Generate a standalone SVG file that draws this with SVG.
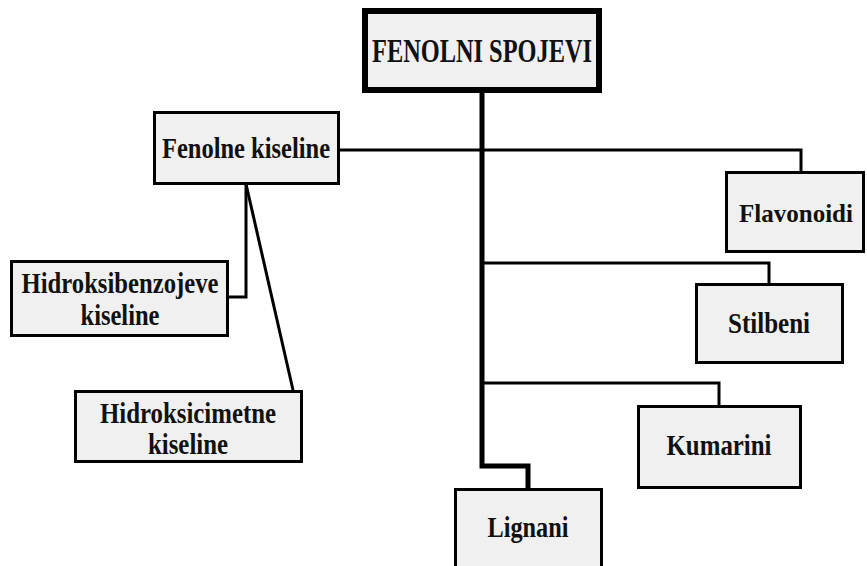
<svg xmlns="http://www.w3.org/2000/svg" width="867" height="566" viewBox="0 0 867 566">
<style>
.box{fill:#f0f0f0;stroke:#000;stroke-width:3}
.main{fill:#f0f0f0;stroke:#000;stroke-width:6}
.t{font-family:"Liberation Serif","Times New Roman",serif;font-weight:bold;font-size:30px;fill:#111;text-anchor:middle}
.title{font-size:34px}
.small{font-size:25px}
.c{fill:none;stroke:#000;stroke-width:3}
.trunk{fill:none;stroke:#000;stroke-width:5}
</style>
<rect width="867" height="566" fill="#fff"/>
<g id="connectors">
<polyline class="c" points="339,150 801,150 801,172"/>
<polyline class="c" points="482,263 769,263 769,283"/>
<polyline class="c" points="482,383 719,383 719,406"/>
<polyline class="c" points="246,184 246,297 229,297"/>
<line class="c" x1="246" y1="184" x2="293" y2="390"/>
<polyline class="trunk" points="482,93 482,466 528,466 528,488"/>
</g>
<g id="fenolni-spojevi">
<rect class="main" x="365" y="11" width="234" height="79"/>
<text class="t title" x="482" y="62" textLength="220" lengthAdjust="spacingAndGlyphs">FENOLNI SPOJEVI</text>
</g>
<g id="fenolne-kiseline">
<rect class="box" x="154.5" y="112.5" width="184" height="71"/>
<text class="t" x="246" y="158" textLength="168" lengthAdjust="spacingAndGlyphs">Fenolne kiseline</text>
</g>
<g id="hidroksibenzojeve">
<rect class="box" x="11.5" y="261.5" width="216" height="74"/>
<text class="t" x="120" y="293" textLength="197" lengthAdjust="spacingAndGlyphs">Hidroksibenzojeve</text>
<text class="t" x="120" y="325" textLength="79" lengthAdjust="spacingAndGlyphs">kiseline</text>
</g>
<g id="hidroksicimetne">
<rect class="box" x="75.5" y="391.5" width="226" height="70"/>
<text class="t" x="188" y="423" textLength="176" lengthAdjust="spacingAndGlyphs">Hidroksicimetne</text>
<text class="t" x="188" y="454" textLength="80" lengthAdjust="spacingAndGlyphs">kiseline</text>
</g>
<g id="flavonoidi">
<rect class="box" x="726.5" y="172.5" width="137" height="79"/>
<text class="t small" x="796" y="222">Flavonoidi</text>
</g>
<g id="stilbeni">
<rect class="box" x="696.5" y="284.5" width="146" height="78"/>
<text class="t" x="769" y="333" textLength="82" lengthAdjust="spacingAndGlyphs">Stilbeni</text>
</g>
<g id="kumarini">
<rect class="box" x="638.5" y="406.5" width="162" height="81"/>
<text class="t" x="719" y="455" textLength="105" lengthAdjust="spacingAndGlyphs">Kumarini</text>
</g>
<g id="lignani">
<rect class="box" x="455.5" y="489.5" width="146" height="90"/>
<text class="t" x="528" y="537" textLength="81" lengthAdjust="spacingAndGlyphs">Lignani</text>
</g>
</svg>
